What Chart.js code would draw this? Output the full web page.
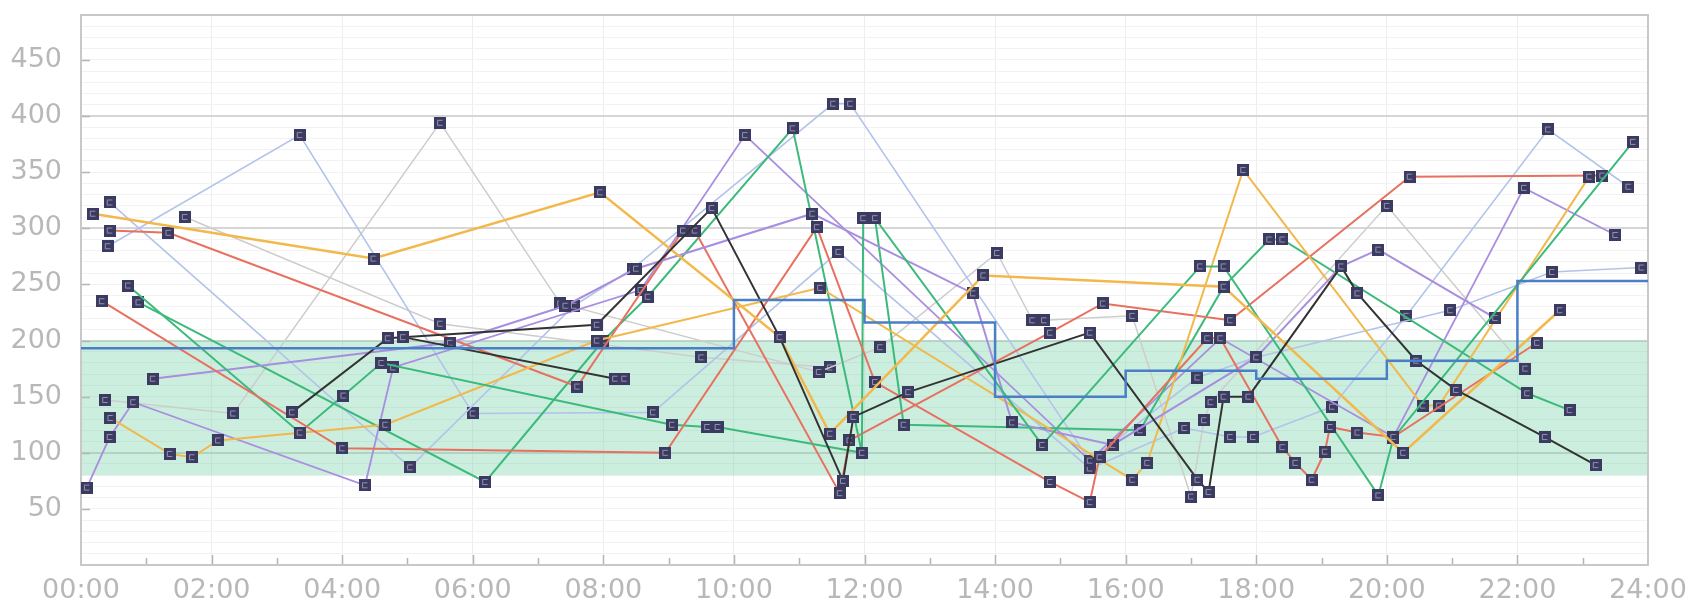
<!DOCTYPE html>
<html>
<head>
<meta charset="utf-8">
<script src="https://cdn.jsdelivr.net/npm/chart.js@4.4.1/dist/chart.umd.min.js"></script>
<style>
  html, body { margin: 0; padding: 0; background: #ffffff; }
  #wrap { width: 1695px; height: 612px; }
</style>
</head>
<body>
<div id="wrap"><canvas id="chart" width="1695" height="612"></canvas></div>
<script>
// Axis labels
const hourLabels = ['00:00', '02:00', '04:00', '06:00', '08:00', '10:00', '12:00',
                    '14:00', '16:00', '18:00', '20:00', '22:00', '24:00'];
const valueLabels = [50, 100, 150, 200, 250, 300, 350, 400, 450];

// Target range (shaded band)
const targetRange = [80, 200];

// Scheduled rate, held from each hour until the next entry
const basalSteps = [[0, 193], [10, 236], [12, 216], [14, 150], [16, 173], [18, 166], [20, 182], [22, 253], [24, 253]];

// Daily readings: [hour of day, value]
const black1 = [[3.23, 136], [4.7, 202], [4.93, 203], [7.9, 214], [9.66, 318], [10.7, 203], [11.67, 75], [11.83, 132],
                [12.67, 154], [15.45, 207], [17.1, 76], [17.27, 65], [17.5, 150], [17.88, 150], [19.3, 266], [19.55, 242],
                [20.45, 182], [21.06, 156], [22.42, 114], [23.2, 89]];
const black2 = [[4.93, 203], [8.18, 166], [8.32, 166]];

const red1 = [[0.32, 235], [4.0, 104], [8.95, 100], [11.27, 301], [12.16, 163], [14.84, 74], [15.45, 56], [15.6, 96],
              [17.25, 202], [17.45, 202], [18.4, 105], [18.6, 91], [18.85, 76], [19.05, 101], [19.13, 123], [19.55, 118],
              [20.1, 114], [22.3, 198]];
const red2 = [[0.44, 298], [1.34, 296], [7.6, 159], [9.22, 298], [9.4, 298], [11.62, 64], [11.77, 111], [14.84, 207],
              [15.65, 233], [17.6, 218], [20.35, 346], [23.3, 347]];

const orange1 = [[0.18, 313], [4.48, 273], [7.95, 332], [10.7, 203], [11.47, 117], [13.82, 258], [17.5, 248],
                 [20.25, 100], [22.65, 227]];
const orange2 = [[0.45, 131], [1.36, 99], [1.7, 96], [2.1, 111], [4.66, 125], [7.9, 200], [11.32, 247], [16.1, 76],
                 [16.33, 91], [17.8, 352], [20.55, 142], [20.8, 142], [23.1, 346]];

const green1 = [[0.88, 234], [6.19, 74], [8.0, 200], [8.68, 239], [10.9, 389], [11.96, 100]];
const green2 = [[0.72, 249], [3.35, 118], [4.02, 151], [4.6, 180], [9.05, 125], [9.59, 123], [9.75, 123], [11.96, 100],
                [11.98, 309], [12.16, 309], [14.72, 107], [17.14, 266], [17.5, 266], [19.87, 62], [20.1, 113], [23.77, 377]];
const green3 = [[12.16, 309], [12.6, 125], [16.22, 120], [17.5, 248], [18.2, 290], [18.4, 290], [22.15, 153], [22.8, 138]];

const purple1 = [[0.09, 69], [0.44, 114], [0.8, 145], [4.35, 71], [4.78, 176], [8.57, 245], [10.17, 383], [15.45, 93],
                 [17.45, 202], [20.1, 114], [22.1, 336], [23.5, 294]];
const purple2 = [[1.1, 166], [5.65, 198], [7.42, 231], [8.5, 264], [11.2, 313], [13.66, 242], [14.26, 127], [15.8, 107],
                 [18.0, 185], [19.3, 266], [19.87, 281], [21.66, 220]];

const lightBlue1 = [[0.44, 323], [5.04, 87], [7.55, 231], [8.45, 264], [11.52, 411], [11.78, 411], [15.45, 93], [17.1, 167],
                    [18.0, 185], [20.97, 227], [22.53, 261], [23.9, 265]];
const lightBlue2 = [[0.41, 284], [3.35, 383], [6.0, 135], [8.76, 136], [11.6, 279], [15.45, 86], [16.9, 122], [17.6, 114],
                    [17.95, 114], [19.16, 141], [20.3, 222], [22.47, 388], [23.7, 337]];

const gray1 = [[0.37, 147], [2.33, 135], [5.5, 394], [7.34, 233], [11.3, 172], [12.24, 194], [14.03, 278], [14.57, 218],
               [14.75, 218], [16.1, 222], [17.0, 61], [17.2, 129], [17.3, 145], [20.0, 320], [22.12, 175]];
const gray2 = [[1.59, 310], [5.5, 215], [9.5, 185], [11.47, 176]];

// Small dark square marker used for every reading
function makeMarker() {
  const c = document.createElement('canvas');
  c.width = 12; c.height = 12;
  const g = c.getContext('2d');
  g.fillStyle = '#3b3a60';
  g.fillRect(0, 0, 12, 12);
  g.strokeStyle = 'rgba(185,185,210,0.7)';
  g.lineWidth = 1;
  g.beginPath();
  g.moveTo(8.5, 3.5); g.lineTo(3.5, 3.5); g.lineTo(3.5, 8.5); g.lineTo(8.5, 8.5);
  g.stroke();
  return c;
}
const marker = makeMarker();

const toXY = arr => arr.map(([x, y]) => ({ x, y }));

function series(data, color, width) {
  return {
    data: toXY(data),
    borderColor: color,
    borderWidth: width,
    pointStyle: marker,
    pointRadius: 6,
    pointHoverRadius: 6,
    tension: 0,
    clip: false,
    fill: false
  };
}

const COLORS = {
  red: '#e8705f',
  orange: '#f2b84b',
  green: '#3cba7c',
  purple: '#a98ee0',
  lightBlue: '#b3c3ea',
  gray: '#cdcdcd',
  black: '#333333',
  blue: '#4a7fc8'
};

// Shaded band, frame and inward tick marks
const decorations = {
  id: 'decorations',
  beforeDatasetsDraw(chart) {
    const { ctx, chartArea: a, scales: { x, y } } = chart;
    ctx.save();
    const yTop = y.getPixelForValue(targetRange[1]);
    const yBot = y.getPixelForValue(targetRange[0]);
    ctx.fillStyle = 'rgba(110,205,160,0.35)';
    ctx.fillRect(a.left, yTop, a.right - a.left, yBot - yTop);

    ctx.strokeStyle = '#b5b5b5';
    ctx.lineWidth = 1.5;
    ctx.beginPath();
    for (let h = 1; h < 24; h++) {
      const px = Math.round(x.getPixelForValue(h)) + 0.5;
      const len = h % 2 === 0 ? 10 : 7;
      ctx.moveTo(px, a.bottom);
      ctx.lineTo(px, a.bottom - len);
    }
    valueLabels.forEach(v => {
      const py = Math.round(y.getPixelForValue(v)) + 0.5;
      ctx.moveTo(a.left, py);
      ctx.lineTo(a.left + 9, py);
    });
    ctx.stroke();

    ctx.strokeStyle = '#c8c8c8';
    ctx.lineWidth = 2;
    ctx.strokeRect(a.left, a.top, a.right - a.left, a.bottom - a.top);
    ctx.restore();
  }
};

const datasets = [
  {
    data: toXY(basalSteps),
    borderColor: COLORS.blue,
    borderWidth: 2.5,
    stepped: 'before',
    pointRadius: 0,
    clip: false,
    fill: false
  },
  series(black2, COLORS.black, 2),
  series(black1, COLORS.black, 2),
  series(orange1, COLORS.orange, 2.5),
  series(red1, COLORS.red, 2),
  series(green2, COLORS.green, 2),
  series(purple2, COLORS.purple, 2),
  series(orange2, COLORS.orange, 2),
  series(red2, COLORS.red, 2),
  series(green1, COLORS.green, 2),
  series(green3, COLORS.green, 2),
  series(purple1, COLORS.purple, 1.8),
  series(lightBlue1, COLORS.lightBlue, 1.6),
  series(lightBlue2, COLORS.lightBlue, 1.6),
  series(gray1, COLORS.gray, 1.5),
  series(gray2, COLORS.gray, 1.5)
];

new Chart(document.getElementById('chart'), {
  type: 'line',
  data: { datasets },
  plugins: [decorations],
  options: {
    responsive: false,
    animation: false,
    devicePixelRatio: 1,
    layout: { padding: { top: 15, right: 47, left: 0, bottom: 0 } },
    plugins: { legend: { display: false }, tooltip: { enabled: false } },
    scales: {
      x: {
        type: 'linear',
        min: 0,
        max: 24,
        border: { display: false },
        grid: {
          drawTicks: false,
          color: ctx => (ctx.tick && ctx.tick.value % 2 === 0 && ctx.tick.value > 0 && ctx.tick.value < 24)
            ? '#eeeeee' : 'rgba(0,0,0,0)',
          lineWidth: 1
        },
        ticks: {
          stepSize: 1,
          autoSkip: false,
          maxRotation: 0,
          padding: 12,
          color: '#b8b8b8',
          font: { family: 'DejaVu Sans', size: 27, lineHeight: 1.0 },
          callback: v => (v % 2 === 0 ? hourLabels[v / 2] : '')
        },
        afterFit: s => { s.height = 47; s.paddingLeft = 0; s.paddingRight = 0; }
      },
      y: {
        type: 'linear',
        min: 0,
        max: 490,
        border: { display: false },
        grid: {
          drawTicks: false,
          color: ctx => (ctx.tick && ctx.tick.value % 100 === 0) ? '#d6d6d6' : '#f2f2f2',
          lineWidth: ctx => (ctx.tick && ctx.tick.value % 100 === 0) ? 2 : 1
        },
        ticks: {
          stepSize: 10,
          autoSkip: false,
          padding: 19,
          color: '#b8b8b8',
          font: { family: 'DejaVu Sans', size: 27, lineHeight: 1.0 },
          callback: v => (valueLabels.includes(v) ? String(v) : '')
        },
        afterFit: s => { s.width = 81; s.paddingTop = 0; s.paddingBottom = 0; }
      }
    }
  }
});
</script>
</body>
</html>
